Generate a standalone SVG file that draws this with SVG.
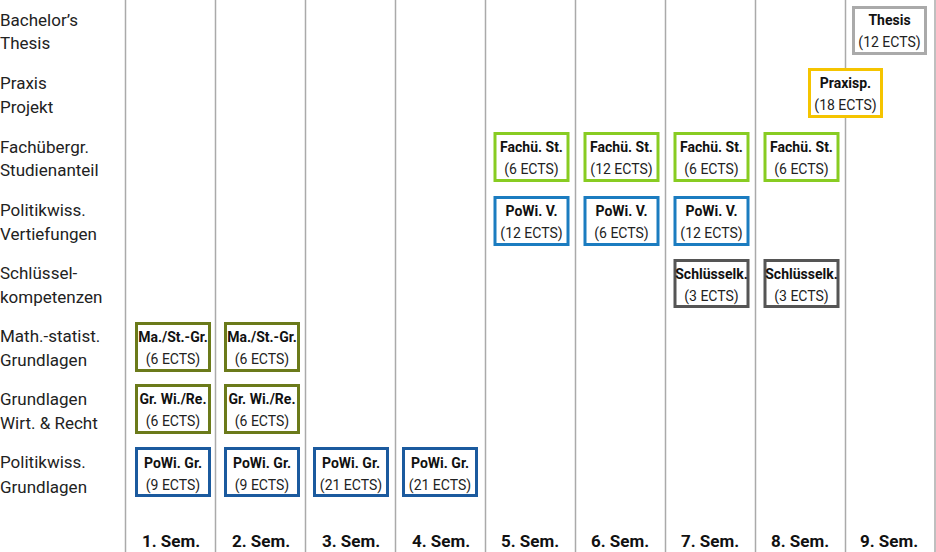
<svg xmlns="http://www.w3.org/2000/svg" width="936" height="552" viewBox="0 0 936 552">
<style>
.grid{stroke:#aaaaaa;stroke-width:1.5}
.lbl{font-family:Roboto,"Liberation Sans",sans-serif;font-size:17px;fill:#222}
.sem{font-family:Roboto,"Liberation Sans",sans-serif;font-size:17px;font-weight:bold;fill:#111;text-anchor:middle}
.t{font-family:Roboto,"Liberation Sans",sans-serif;font-size:14px;font-weight:bold;fill:#111;text-anchor:middle}
.e{font-family:Roboto,"Liberation Sans",sans-serif;font-size:14px;fill:#222;text-anchor:middle}
rect{fill:#fff;stroke-width:3}
.pg{stroke:#1b5a9e}
.pv{stroke:#1b7cc0}
.ol{stroke:#6b7a1a}
.gr{stroke:#88cc22}
.sk{stroke:#555555}
.th{stroke:#aaaaaa}
.px{stroke:#f5c400}
</style>
<g id="grid">
<line class="grid" x1="125.5" y1="0" x2="125.5" y2="552"/>
<line class="grid" x1="215.5" y1="0" x2="215.5" y2="552"/>
<line class="grid" x1="305.5" y1="0" x2="305.5" y2="552"/>
<line class="grid" x1="395.5" y1="0" x2="395.5" y2="552"/>
<line class="grid" x1="485.5" y1="0" x2="485.5" y2="552"/>
<line class="grid" x1="575.5" y1="0" x2="575.5" y2="552"/>
<line class="grid" x1="665.5" y1="0" x2="665.5" y2="552"/>
<line class="grid" x1="755.5" y1="0" x2="755.5" y2="552"/>
<line class="grid" x1="845.5" y1="0" x2="845.5" y2="552"/>
<line class="grid" x1="935" y1="0" x2="935" y2="552"/>
</g>
<g id="row-labels">
<text class="lbl" x="0" y="26">Bachelor’s</text><text class="lbl" x="0" y="49">Thesis</text>
<text class="lbl" x="0" y="89">Praxis</text><text class="lbl" x="0" y="113">Projekt</text>
<text class="lbl" x="0" y="153">Fachübergr.</text><text class="lbl" x="0" y="176">Studienanteil</text>
<text class="lbl" x="0" y="216">Politikwiss.</text><text class="lbl" x="0" y="240">Vertiefungen</text>
<text class="lbl" x="0" y="279">Schlüssel-</text><text class="lbl" x="0" y="303">kompetenzen</text>
<text class="lbl" x="0" y="342">Math.-statist.</text><text class="lbl" x="0" y="366">Grundlagen</text>
<text class="lbl" x="0" y="405">Grundlagen</text><text class="lbl" x="0" y="429">Wirt. &amp; Recht</text>
<text class="lbl" x="0" y="468">Politikwiss.</text><text class="lbl" x="0" y="493">Grundlagen</text>
</g>
<g id="sem-labels">
<text class="sem" x="171" y="547">1. Sem.</text>
<text class="sem" x="261" y="547">2. Sem.</text>
<text class="sem" x="351" y="547">3. Sem.</text>
<text class="sem" x="441" y="547">4. Sem.</text>
<text class="sem" x="530" y="547">5. Sem.</text>
<text class="sem" x="620" y="547">6. Sem.</text>
<text class="sem" x="710" y="547">7. Sem.</text>
<text class="sem" x="800" y="547">8. Sem.</text>
<text class="sem" x="889" y="547">9. Sem.</text>
</g>
<g id="thesis"><rect class="th" x="853.5" y="7.5" width="72" height="46"/><text class="t" x="889.5" y="25">Thesis</text><text class="e" x="889.5" y="47">(12 ECTS)</text></g>
<g id="praxis"><rect class="px" x="809.5" y="69.5" width="72" height="47"/><text class="t" x="845.5" y="88">Praxisp.</text><text class="e" x="845.5" y="110">(18 ECTS)</text></g>
<g id="fach5"><rect class="gr" x="495" y="133.5" width="73" height="47"/><text class="t" x="531.5" y="152">Fachü. St.</text><text class="e" x="531.5" y="174">(6 ECTS)</text></g>
<g id="fach6"><rect class="gr" x="585" y="133.5" width="73" height="47"/><text class="t" x="621.5" y="152">Fachü. St.</text><text class="e" x="621.5" y="174">(12 ECTS)</text></g>
<g id="fach7"><rect class="gr" x="675" y="133.5" width="73" height="47"/><text class="t" x="711.5" y="152">Fachü. St.</text><text class="e" x="711.5" y="174">(6 ECTS)</text></g>
<g id="fach8"><rect class="gr" x="765" y="133.5" width="73" height="47"/><text class="t" x="801.5" y="152">Fachü. St.</text><text class="e" x="801.5" y="174">(6 ECTS)</text></g>
<g id="powiv5"><rect class="pv" x="495" y="197.5" width="73" height="47"/><text class="t" x="531.5" y="216">PoWi. V.</text><text class="e" x="531.5" y="238">(12 ECTS)</text></g>
<g id="powiv6"><rect class="pv" x="585" y="197.5" width="73" height="47"/><text class="t" x="621.5" y="216">PoWi. V.</text><text class="e" x="621.5" y="238">(6 ECTS)</text></g>
<g id="powiv7"><rect class="pv" x="675" y="197.5" width="73" height="47"/><text class="t" x="711.5" y="216">PoWi. V.</text><text class="e" x="711.5" y="238">(12 ECTS)</text></g>
<g id="sk7"><rect class="sk" x="675" y="260.5" width="73" height="46"/><text class="t" x="711.5" y="279">Schlüsselk.</text><text class="e" x="711.5" y="301">(3 ECTS)</text></g>
<g id="sk8"><rect class="sk" x="765" y="260.5" width="73" height="46"/><text class="t" x="801.5" y="279">Schlüsselk.</text><text class="e" x="801.5" y="301">(3 ECTS)</text></g>
<g id="ma1"><rect class="ol" x="136.5" y="323.5" width="73" height="47"/><text class="t" x="173" y="342">Ma./St.-Gr.</text><text class="e" x="173" y="364">(6 ECTS)</text></g>
<g id="ma2"><rect class="ol" x="225.5" y="323.5" width="73" height="47"/><text class="t" x="262" y="342">Ma./St.-Gr.</text><text class="e" x="262" y="364">(6 ECTS)</text></g>
<g id="gw1"><rect class="ol" x="136.5" y="385.5" width="73" height="47"/><text class="t" x="173" y="404">Gr. Wi./Re.</text><text class="e" x="173" y="426">(6 ECTS)</text></g>
<g id="gw2"><rect class="ol" x="225.5" y="385.5" width="73" height="47"/><text class="t" x="262" y="404">Gr. Wi./Re.</text><text class="e" x="262" y="426">(6 ECTS)</text></g>
<g id="pg1"><rect class="pg" x="136.5" y="448.5" width="73" height="47"/><text class="t" x="173" y="468">PoWi. Gr.</text><text class="e" x="173" y="490">(9 ECTS)</text></g>
<g id="pg2"><rect class="pg" x="225.5" y="448.5" width="73" height="47"/><text class="t" x="262" y="468">PoWi. Gr.</text><text class="e" x="262" y="490">(9 ECTS)</text></g>
<g id="pg3"><rect class="pg" x="314.5" y="448.5" width="73" height="47"/><text class="t" x="351" y="468">PoWi. Gr.</text><text class="e" x="351" y="490">(21 ECTS)</text></g>
<g id="pg4"><rect class="pg" x="403.5" y="448.5" width="73" height="47"/><text class="t" x="440" y="468">PoWi. Gr.</text><text class="e" x="440" y="490">(21 ECTS)</text></g>
</svg>
